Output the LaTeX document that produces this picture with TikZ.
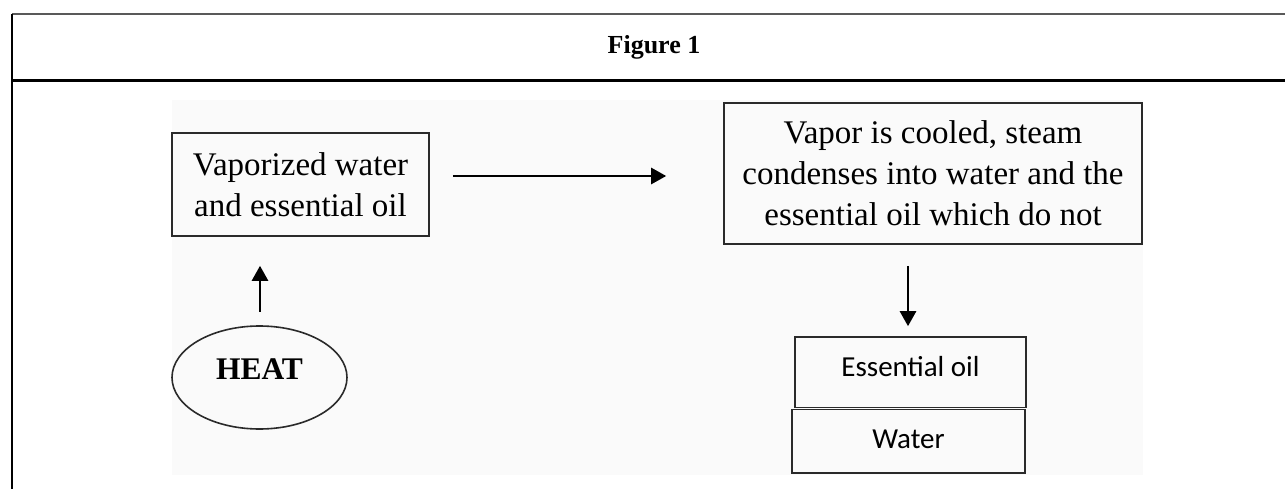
\documentclass[tikz,border=0pt]{standalone}
\usepackage{fontspec}
\setmainfont{Liberation Serif}
\newfontfamily\calibfont{Carlito}
\usetikzlibrary{arrows.meta,shapes.geometric,calc}
\definecolor{boxline}{HTML}{2A2A2A}
\definecolor{bggrey}{HTML}{FAFAFA}
\tikzset{
  boxed/.style={draw=boxline, line width=1.6pt, inner sep=0pt, align=center},
  serif33/.style={font=\fontsize{33}{41}\selectfont},
  sans29/.style={font=\calibfont\fontsize{29}{35}\selectfont},
  arr/.style={draw=black, line width=2.6pt, -{Triangle[length=15pt,width=16pt]}},
}
\begin{document}
\begin{tikzpicture}[x=1pt,y=-1pt]
\useasboundingbox (0,0) rectangle (1285,489);
\fill[white] (0,0) rectangle (1285,489);
% frame
\draw[draw=black!65, line width=1.8pt] (12,14) -- (1285,14);
\draw[draw=black, line width=1.6pt] (12,14) -- (12,489);
\draw[draw=black, line width=2.6pt] (12,80.5) -- (1285,80.5);
\node[font=\bfseries\fontsize{26}{30}\selectfont] (title) at (654,47) {Figure 1};
% embedded picture background
\fill[bggrey] (172,100) rectangle (1143,475);
% nodes
\node[boxed, serif33, minimum width=257pt, minimum height=103pt] (lbox) at (300.5,184.5)
  {Vaporized water\\and essential oil};
\node[boxed, serif33, minimum width=418pt, minimum height=141pt] (rbox) at (933,173.5)
  {Vapor is cooled, steam\\condenses into water and the\\essential oil which do not};
\node[draw=boxline, line width=1.6pt, ellipse, inner sep=0pt, minimum width=175pt, minimum height=103pt,
  font=\bfseries\fontsize{31.5}{36}\selectfont, text height=22pt, text depth=19pt] (heat) at (259.5,377.5) {HEAT};
\node[boxed, sans29, minimum width=231pt, minimum height=70.5pt, text height=20pt, text depth=11pt] (oil) at (910.5,372.25) {Essential oil};
\node[boxed, sans29, minimum width=233pt, minimum height=63.5pt, text height=20pt, text depth=5pt] (water) at (908.5,441.25) {Water};
% connectors
\draw[arr] ($(lbox.east)+(23,-8.5)$) -- ($(rbox.west)+(-57,2.5)$);
\draw[arr] ($(heat.north)+(0.5,-13.5)$) -- ($(lbox.south)+(-40.5,29)$);
\draw[arr] ($(rbox.south)+(-25,21)$) -- ($(oil.north)+(-2.5,-10)$);
\end{tikzpicture}
\end{document}
